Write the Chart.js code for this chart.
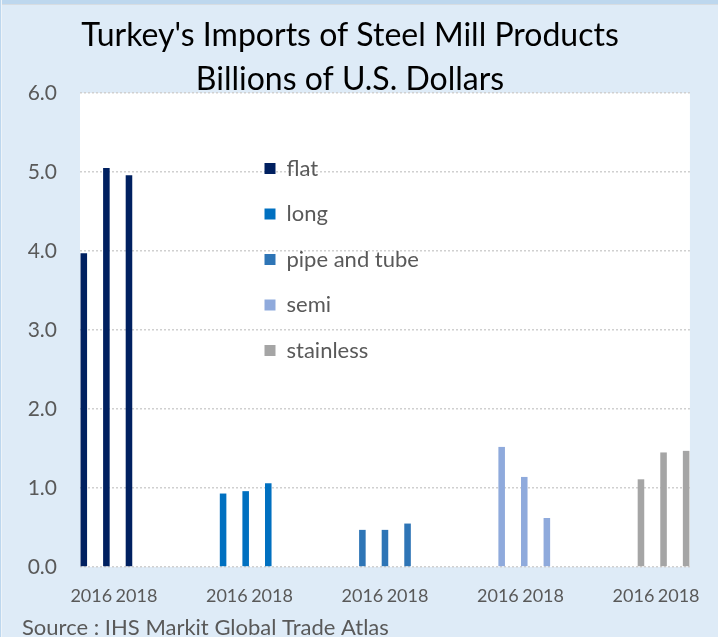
<!DOCTYPE html>
<html>
<head>
<meta charset="utf-8">
<script src="https://cdn.jsdelivr.net/npm/chart.js@4/dist/chart.umd.min.js"></script>
<style>
html,body{margin:0;padding:0;background:#DEEBF7;}
#wrap{position:relative;width:718px;height:637px;background:#DEEBF7;overflow:hidden;}
#topstrip{position:absolute;left:0;top:0;width:718px;height:4px;background:#BDD7EE;border-bottom:1px solid #D6DCE2;}
#leftstrip{position:absolute;left:0;top:0;width:1px;height:637px;background:#BDD7EE;border-right:1px solid #EEF3F8;}
canvas{position:absolute;left:0;top:0;}
</style>
</head>
<body>
<div id="wrap">
<div id="topstrip"></div>
<div id="leftstrip"></div>
<canvas id="c" width="718" height="637"></canvas>
</div>
<script>
// ---- data ----
const years = ['2016', '2017', '2018'];
const products = ['flat', 'long', 'pipe and tube', 'semi', 'stainless'];
const flat = [3.97, 5.05, 4.96];
const long = [0.93, 0.96, 1.06];
const pipeAndTube = [0.47, 0.47, 0.55];
const semi = [1.52, 1.14, 0.62];
const stainless = [1.11, 1.45, 1.47];
const gapCategories = 3;
const colors = ['#002060', '#0070C0', '#2E75B6', '#8FAADC', '#A5A5A5'];
const titleLines = ["Turkey's Imports of Steel Mill Products", 'Billions of U.S. Dollars'];
const sourceText = 'Source : IHS Markit Global Trade Atlas';

// ---- build category table ----
const seriesValues = [flat, long, pipeAndTube, semi, stainless];
const labels = [];
const groupStart = [];
products.forEach((p, i) => {
  groupStart.push(labels.length);
  years.forEach(y => labels.push(y));
  if (i < products.length - 1) for (let g = 0; g < gapCategories; g++) labels.push('');
});
const datasets = products.map((p, i) => {
  const data = labels.map(() => null);
  seriesValues[i].forEach((v, k) => { data[groupStart[i] + k] = v; });
  return {
    label: p,
    data,
    backgroundColor: colors[i],
    borderWidth: 0,
    categoryPercentage: 0.83,
    barPercentage: 1.75
  };
});

const FONT = 'Lato, "Noto Sans", sans-serif';

const placeBlocks = {
  id: 'placeBlocks',
  afterLayout(chart) {
    const a = chart.chartArea;
    if (chart.legend) {
      chart.legend.left = a.left + 161;
      chart.legend.top = a.top + 41;
    }
    if (chart.titleBlock) chart.titleBlock.left -= 14;
  },
  beforeDraw(chart) {
    const {ctx, chartArea: a} = chart;
    ctx.save();
    ctx.fillStyle = '#FFFFFF';
    ctx.fillRect(a.left, a.top, a.right - a.left, a.bottom - a.top);
    ctx.restore();
  }
};

new Chart(document.getElementById('c'), {
  type: 'bar',
  data: { labels, datasets },
  plugins: [placeBlocks],
  options: {
    responsive: false,
    animation: false,
    devicePixelRatio: 1,
    layout: { padding: { top: 14, left: 22, right: 26, bottom: 0 } },
    plugins: {
      title: {
        display: true,
        text: titleLines,
        color: '#000000',
        font: { family: FONT, size: 32, weight: 'normal', lineHeight: '44px' },
        padding: { top: 0, bottom: -9 }
      },
      subtitle: {
        display: true,
        position: 'bottom',
        align: 'start',
        text: sourceText,
        color: '#595959',
        font: { family: FONT, size: 22, weight: 'normal', lineHeight: '22px' },
        padding: { top: 12, bottom: -2 }
      },
      legend: {
        display: true,
        position: 'chartArea',
        align: 'start',
        labels: {
          boxWidth: 11,
          boxHeight: 11,
          padding: 23.5,
          color: '#595959',
          font: { family: FONT, size: 22 }
        }
      },
      tooltip: { enabled: false }
    },
    scales: {
      x: {
        afterFit: (s) => { s.height = 38; },
        grid: { display: false, drawTicks: false },
        border: { display: false },
        ticks: {
          autoSkip: false,
          maxRotation: 0,
          minRotation: 0,
          padding: 18,
          color: '#595959',
          font: { family: FONT, size: 18, lineHeight: 1.2 },
          callback: function (val, idx) { return idx % 2 === 0 ? this.getLabelForValue(val) : ''; }
        }
      },
      y: {
        min: 0,
        max: 6,
        afterFit: (s) => { s.width = 58; },
        grid: { color: '#D0D0D0', lineWidth: 1.5, drawTicks: false },
        border: { display: false, dash: [2, 2] },
        ticks: {
          stepSize: 1,
          padding: 23,
          color: '#595959',
          font: { family: FONT, size: 21 },
          callback: (v) => Number(v).toFixed(1)
        }
      }
    }
  }
});
</script>
</body>
</html>
